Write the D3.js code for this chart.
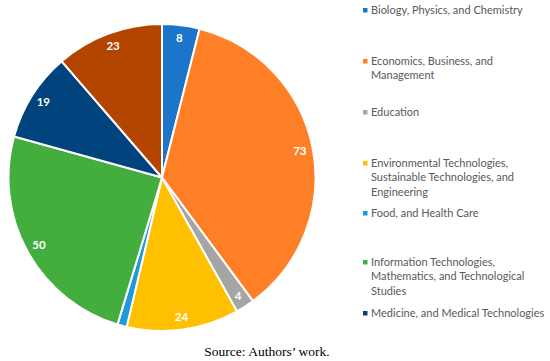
<!DOCTYPE html>
<html>
<head>
<meta charset="utf-8">
<script src="https://cdn.jsdelivr.net/npm/d3@7"></script>
<style>
  body { margin: 0; background: #fff; }
</style>
</head>
<body>
<svg id="svg"></svg>
<script>
// chart data
const categories = [
  "Biology, Physics, and Chemistry",
  "Economics, Business, and Management",
  "Education",
  "Environmental Technologies, Sustainable Technologies, and Engineering",
  "Food, and Health Care",
  "Information Technologies, Mathematics, and Technological Studies",
  "Medicine, and Medical Technologies",
  "Other"
];
const values = [8, 73, 4, 24, 2, 50, 19, 23];
const showLabel = [true, true, true, true, false, true, true, true];
// legend text, wrapped like the original (last category is cut off there)
const legendLines = [
  ["Biology, Physics, and Chemistry"],
  ["Economics, Business, and", "Management"],
  ["Education"],
  ["Environmental Technologies,", "Sustainable Technologies, and", "Engineering"],
  ["Food, and Health Care"],
  ["Information Technologies,", "Mathematics, and Technological", "Studies"],
  ["Medicine, and Medical Technologies"]
];
const legendY = [10, 61, 112, 163, 213, 262, 313];
const colors = ["#1c74cb", "#fe7f26", "#a5a5a5", "#ffc000", "#1f9ad9", "#43ae3e", "#01437d", "#b44500"];
const sourceText = "Source: Authors\u2019 work.";

const width = 550, height = 361;
const cx = 162, cy = 177.5, radius = 153.5;

const svg = d3.select("#svg")
  .attr("width", width)
  .attr("height", height);

const data = categories.map((c, i) => ({ category: c, value: values[i], label: showLabel[i] }));

const color = d3.scaleOrdinal().domain(categories).range(colors);
const pie = d3.pie().sort(null).value(d => d.value);
const arc = d3.arc().innerRadius(0).outerRadius(radius);
const labelArc = d3.arc().innerRadius(radius * 0.915).outerRadius(radius * 0.915);

const g = svg.append("g")
  .attr("transform", `translate(${cx}, ${cy})`);

// slices
g.selectAll("path")
  .data(pie(data))
  .enter()
  .append("path")
  .attr("d", arc)
  .attr("fill", d => color(d.data.category))
  .attr("stroke", "#fff")
  .attr("stroke-width", 2)
  .attr("stroke-linejoin", "round");

// value labels
g.selectAll("text")
  .data(pie(data).filter(d => d.data.label))
  .enter()
  .append("text")
  .attr("transform", d => `translate(${labelArc.centroid(d)})`)
  .attr("text-anchor", "middle")
  .attr("dy", "0.35em")
  .attr("font-family", "Lato, 'Open Sans', sans-serif")
  .attr("font-weight", "bold")
  .attr("font-size", 11.5)
  .attr("fill", "#fff")
  .text(d => d.data.value);

// legend
const legend = svg.append("g")
  .attr("transform", "translate(363, 0)");

legendLines.forEach((lines, i) => {
  const row = legend.append("g")
    .attr("transform", `translate(0, ${legendY[i]})`);

  row.append("rect")
    .attr("x", 0)
    .attr("y", -2)
    .attr("width", 4.5)
    .attr("height", 4.5)
    .attr("fill", colors[i]);

  const t = row.append("text")
    .attr("x", 8)
    .attr("y", 0)
    .attr("font-family", "Lato, 'Open Sans', sans-serif")
    .attr("font-size", 11)
    .attr("fill", "#595959");

  lines.forEach((line, j) => {
    t.append("tspan")
      .attr("x", 8)
      .attr("y", j * 14.5)
      .attr("dy", "0.35em")
      .text(line);
  });
});

// source note
svg.append("text")
  .attr("x", 267)
  .attr("y", 356)
  .attr("text-anchor", "middle")
  .attr("font-family", "'Liberation Serif', 'DejaVu Serif', serif")
  .attr("font-size", 13.5)
  .attr("fill", "#000")
  .text(sourceText);
</script>
</body>
</html>
